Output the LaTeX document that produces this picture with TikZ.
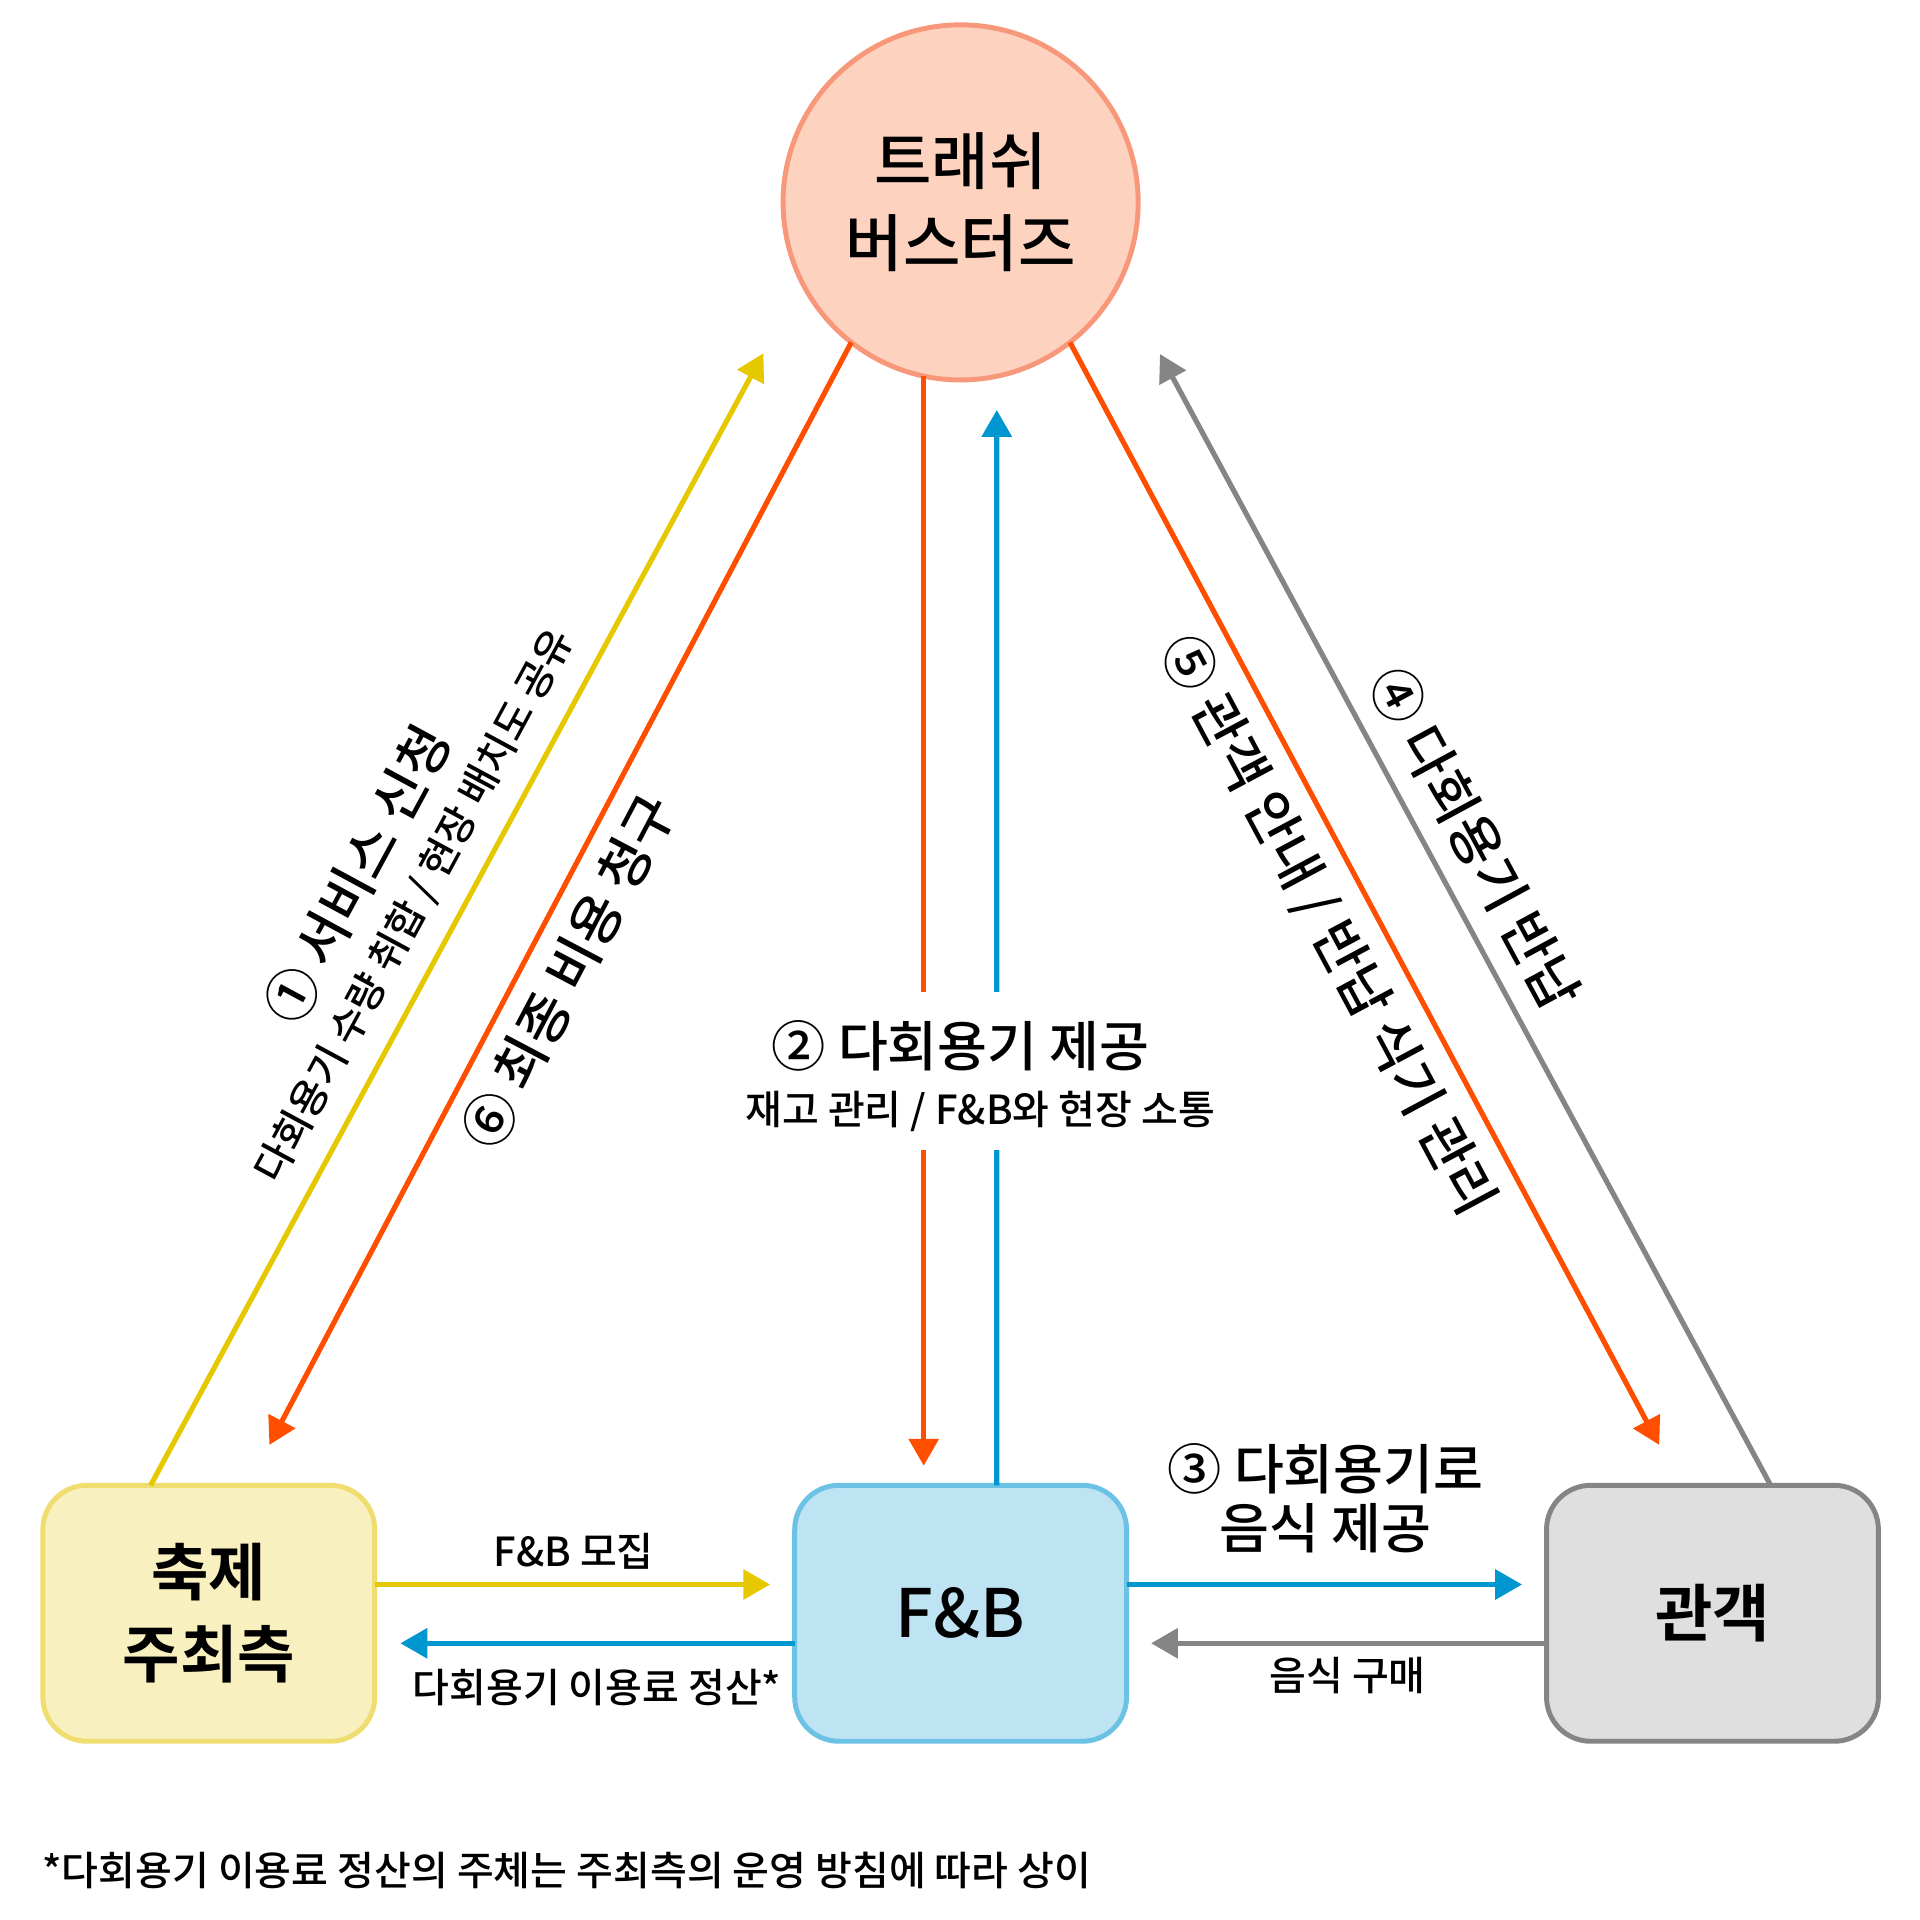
\documentclass[tikz,border=0pt]{standalone}
\usepackage{fontspec}
\setmainfont{Noto Sans CJK KR}[UprightFont=* Medium, BoldFont=* Bold]
\usetikzlibrary{positioning,arrows.meta}
\definecolor{tbfill}{HTML}{FDD2BE}
\definecolor{tbline}{HTML}{F8987A}
\definecolor{festfill}{HTML}{F8F0BE}
\definecolor{festline}{HTML}{F0DD6F}
\definecolor{fnbfill}{HTML}{BEE3F2}
\definecolor{fnbline}{HTML}{6CC2E5}
\definecolor{audfill}{HTML}{DFDFDF}
\definecolor{audline}{HTML}{858585}
\definecolor{cyel}{HTML}{E6C800}
\definecolor{cora}{HTML}{FF4E00}
\definecolor{cblu}{HTML}{0096CF}
\definecolor{cgry}{HTML}{858585}
\newcommand\ttlfont{\fontsize{14.5}{19}\selectfont}
\newcommand\fnbfont{\fontsize{15.5}{18}\selectfont}
\newcommand\medfont{\fontsize{12.6}{13.7}\selectfont}
\newcommand\lblfont{\fontsize{9.3}{11}\selectfont}
\tikzset{>={Triangle[length=2.2mm,width=2.4mm]},
  party/.style={rectangle, rounded corners=3.6mm, minimum width=2.71cm, minimum height=2.09cm,
    line width=1.15pt, inner sep=0pt, outer sep=0pt, align=center, font=\ttlfont\bfseries},
  flow/.style={->, line width=1.2pt}}

\begin{document}
\begin{tikzpicture}
\useasboundingbox (0,0) rectangle (15.68,-15.68);
\node[circle, fill=tbfill, draw=tbline, line width=1.15pt, minimum size=2.9cm, inner sep=0pt,
  outer sep=0pt, align=center, font=\ttlfont] (tb) at (7.845,-1.653) {트래쉬\\버스터즈};
\node[party, fill=fnbfill, draw=fnbline, font=\fnbfont] (fnb) at (7.845,-13.175) {F\&B};
\node[party, fill=festfill, draw=festline, left=3.43cm of fnb] (fest) {축제\\주최측};
\node[party, fill=audfill, draw=audline, right=3.43cm of fnb] (aud) {관객};

\coordinate (t1) at (6.234,-2.885);
\coordinate (t6) at (2.20,-11.80);
\coordinate (t3) at (8.14,-3.348);
\coordinate (t5) at (13.55,-11.80);
\coordinate (t4) at (9.473,-2.891);

\draw[flow, cyel] ([xshift=-4.75mm]fest.north) -- (t1);
\draw[flow, cora] (tb.232) -- (t6);
\draw[flow, cora, shorten >=1.6mm] (tb.258.2) -- (tb.258.2 |- fnb.north);
\draw[flow, cblu] ([xshift=2.95mm]fnb.north) -- (t3);
\draw[flow, cora] (tb.308.4) -- (t5);
\draw[flow, cgry] ([xshift=4.75mm]aud.north) -- (t4);

\draw[flow, cyel, shorten >=2mm] ([yshift=2.35mm]fest.east) -- ([yshift=2.35mm]fnb.west);
\draw[flow, cblu, shorten >=2.1mm] ([yshift=-2.45mm]fnb.west) -- ([yshift=-2.45mm]fest.east);
\draw[flow, cblu, shorten >=2mm] ([yshift=2.35mm]fnb.east) -- ([yshift=2.35mm]aud.west);
\draw[flow, cgry, shorten >=2mm] ([yshift=-2.45mm]aud.west) -- ([yshift=-2.45mm]fnb.east);

\node[rotate=61.6, font=\medfont] (l1) at (2.915,-7.142) {① 서비스 신청};
\node[rotate=61.6, font=\lblfont] (l1s) at (3.389,-7.40) {다회용기 수량 취합 / 현장 배치도 공유};
\node[rotate=62.2, font=\medfont] (l6) at (4.644,-7.932) {⑥ 최종 비용 청구};
\node[fill=white, inner xsep=2pt, inner ysep=2.3mm, font=\medfont] (l2) at (7.845,-8.54) {② 다회용기 제공};
\node[fill=white, inner xsep=2pt, inner ysep=1.5mm, font=\lblfont] (l2s) at (8.005,-9.075) {재고 관리 / F\&B와 현장 소통};
\node[align=center, font=\medfont] (l3) at (10.825,-12.235) {③ 다회용기로\\음식 제공};
\node[rotate=-61.6, font=\medfont] (l4) at (12.048,-6.847) {④ 다회용기 반납};
\node[rotate=-61.9, font=\medfont] (l5) at (10.842,-7.558) {⑤ 관객 안내 / 반납 식기 관리};
\node[font=\lblfont] (lr) at (4.685,-12.67) {F\&B 모집};
\node[font=\lblfont] (lf) at (4.875,-13.78) {다회용기 이용료 정산*};
\node[font=\lblfont] (lb) at (11.005,-13.68) {음식 구매};
\node[font=\lblfont, anchor=west, inner sep=0pt] (note) at (0.34,-15.275) {*다회용기 이용료 정산의 주체는 주최측의 운영 방침에 따라 상이};
\end{tikzpicture}
\end{document}
